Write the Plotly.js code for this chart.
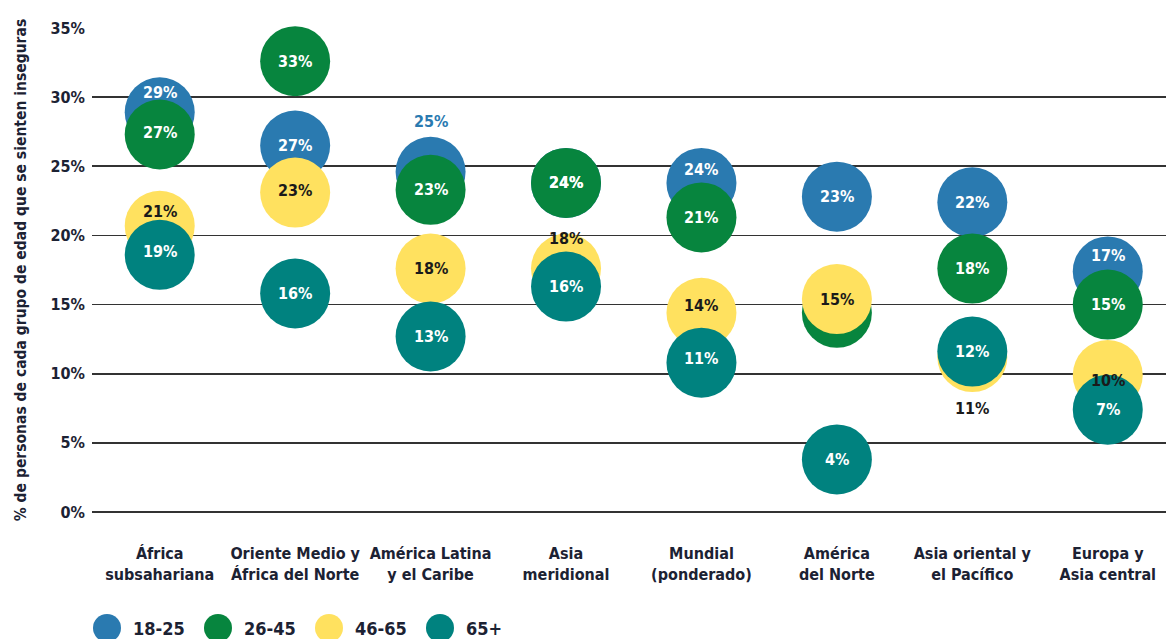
<!DOCTYPE html>
<html>
<head>
<meta charset="utf-8">
<script src="https://cdn.plot.ly/plotly-3.0.1.min.js"></script>
<style>
  html, body { margin: 0; padding: 0; background: #ffffff; }
  #chart { width: 1166px; height: 639px; }
</style>
</head>
<body>
<div id="chart"></div>
<script>
// ---- Data ----
const categories = [
  "África<br>subsahariana",
  "Oriente Medio y<br>África del Norte",
  "América Latina<br>y el Caribe",
  "Asia<br>meridional",
  "Mundial<br>(ponderado)",
  "América<br>del Norte",
  "Asia oriental y<br>el Pacífico",
  "Europa y<br>Asia central"
];
const seriesNames = ["18-25", "26-45", "46-65", "65+"];
const age18_25 = [28.9, 26.5, 24.6, 23.8, 23.8, 22.8, 22.4, 17.4];
const age26_45 = [27.3, 32.6, 23.3, 23.8, 21.3, 14.4, 17.6, 15.0];
const age46_65 = [20.7, 23.1, 17.6, 17.6, 14.4, 15.4, 11.2, 9.9];
const age65plus = [18.6, 15.8, 12.7, 16.3, 10.8, 3.8, 11.6, 7.4];
const yTicks = [0, 5, 10, 15, 20, 25, 30, 35];
const yTitle = "% de personas de cada grupo de edad que se sienten inseguras";

// ---- Styles ----
const colors = ["#2a7ab0", "#07853e", "#ffe15f", "#00827f"];
const textOnColor = ["#ffffff", "#ffffff", "#1a1a1a", "#ffffff"];
// label pixel shifts (layout only), per series per category; null = no label
const labelShift = [
  [20, 0, 50, 0, 13, 0, 0, 16],
  [2, 0, 0, 0, 0, null, 0, 0],
  [14, 2, 0, 30, 7, 0, -51, -5],
  [3, 0, 0, 0, 4, 0, 0, 0]
];
const outsideColor = { "0-2": "#2a7ab0", "2-6": "#1a1a1a" };

const FONT = "'DejaVu Sans Condensed', 'DejaVu Sans', sans-serif";
const DARK = "#1c2233";

const allSeries = [age18_25, age26_45, age46_65, age65plus];

const traces = allSeries.map((vals, s) => ({
  type: "scatter",
  mode: "markers",
  name: seriesNames[s],
  x: categories,
  y: vals,
  marker: { size: 70, color: colors[s], opacity: 1, line: { width: 0 } },
  cliponaxis: false,
  showlegend: false,
  hoverinfo: "skip"
}));

const annotations = [];
allSeries.forEach((vals, s) => {
  vals.forEach((v, i) => {
    const sh = labelShift[s][i];
    if (sh === null) return;
    const key = s + "-" + i;
    const col = outsideColor[key] || textOnColor[s];
    annotations.push({
      x: categories[i], y: v, xref: "x", yref: "y",
      text: "<b>" + Math.round(v) + "%</b>",
      showarrow: false, yshift: sh,
      font: { family: FONT, size: 16, color: col, stretch: "condensed" }
    });
  });
});

// custom legend (large circles)
const plotL = 92, plotW = 1074, plotB = 512, plotH = 484;
const legendX = [107, 218, 329, 440];
const legendY = 628;
const shapes = [];
seriesNames.forEach((n, s) => {
  const px = (legendX[s] - plotL) / plotW;
  const py = (plotB - legendY) / plotH;
  shapes.push({
    type: "circle", xref: "paper", yref: "paper",
    xsizemode: "pixel", ysizemode: "pixel",
    xanchor: px, yanchor: py, x0: -14, x1: 14, y0: -14, y1: 14,
    fillcolor: colors[s], line: { width: 0 }
  });
  annotations.push({
    x: px, y: py, xref: "paper", yref: "paper",
    xanchor: "left", yanchor: "middle", xshift: 24,
    text: "<b>" + n + "</b>", showarrow: false,
    font: { family: FONT, size: 18, color: DARK, stretch: "condensed" }
  });
});

const layout = {
  width: 1166, height: 639,
  margin: { l: 92, r: 0, t: 28, b: 127 },
  paper_bgcolor: "#ffffff", plot_bgcolor: "#ffffff",
  showlegend: false,
  xaxis: {
    type: "category",
    range: [-0.5, 7.43],
    showgrid: false, zeroline: false, showline: false,
    ticks: "", ticklabelstandoff: 30, tickangle: 0,
    tickfont: { family: FONT, size: 16, color: DARK, weight: "bold", stretch: "condensed" },
    fixedrange: true
  },
  yaxis: {
    range: [0, 35],
    tickvals: yTicks,
    ticktext: yTicks.map(t => t + "%"),
    showgrid: true, gridcolor: "#333333", gridwidth: 1.6,
    zeroline: true, zerolinecolor: "#333333", zerolinewidth: 1.6,
    showline: false, ticks: "", ticklabelstandoff: 6,
    tickfont: { family: FONT, size: 16, color: DARK, weight: "bold", stretch: "condensed" },
    title: {
      text: "<b>" + yTitle + "</b>",
      font: { family: FONT, size: 15.5, color: DARK, stretch: "condensed" },
      standoff: 20
    },
    fixedrange: true
  },
  annotations: annotations,
  shapes: shapes
};

Plotly.newPlot("chart", traces, layout, { displayModeBar: false, staticPlot: true });
</script>
</body>
</html>
